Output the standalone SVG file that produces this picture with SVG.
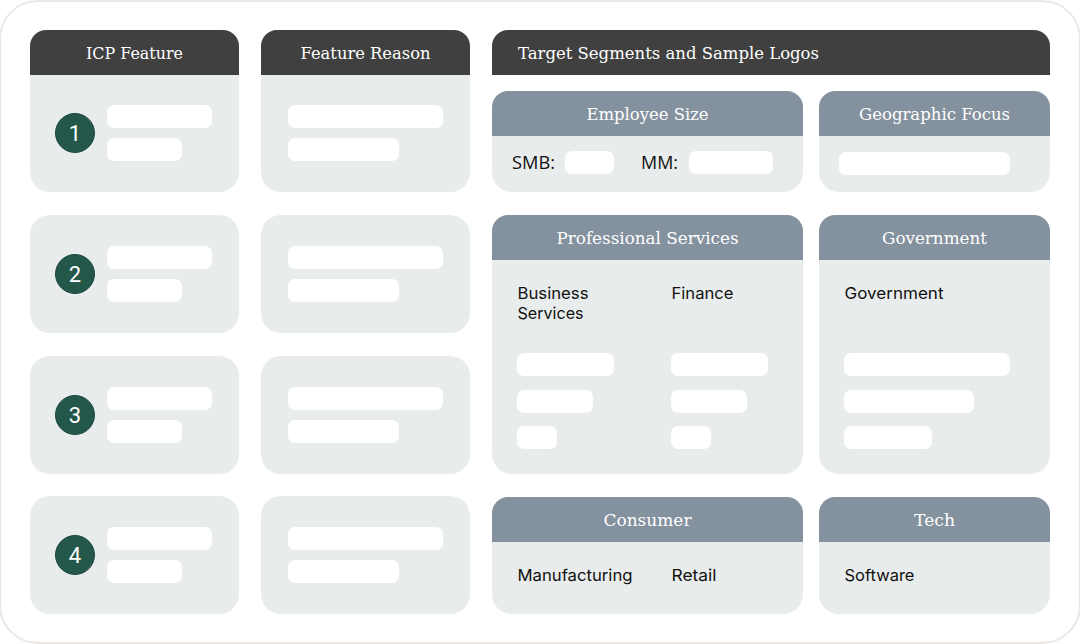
<svg xmlns="http://www.w3.org/2000/svg" width="1080" height="644" viewBox="0 0 1080 644">
<style>
.p{fill:#e9ecec}.d{fill:#404040}.g{fill:#84919e}.w{fill:#fff}
.h{font-family:"DejaVu Serif","Liberation Serif",serif;font-size:17.5px;fill:#fff;text-anchor:middle}
.s{fill:#fff;text-anchor:start}
.b{font-family:"Inter","Liberation Sans",sans-serif;font-size:16.5px;fill:#111}
.o{font-family:"Open Sans","Noto Sans",sans-serif;font-size:18px;fill:#111}
.c{fill:#235749;stroke:#1d4a3e;stroke-width:1}
.n{font-family:"Roboto","Liberation Sans",sans-serif;font-size:22px;fill:#fff;text-anchor:middle}
</style>
<defs>
<path id="h209" d="M30 75V46a16 16 0 0 1 16-16H223a16 16 0 0 1 16 16V75Z"/>
</defs>
<rect width="1080" height="644" fill="#fff"/>
<rect x="0" y="1" width="1080" height="642" rx="38" fill="#fff" stroke="#ece9e5" stroke-width="2"/>
<g id="connectors"></g>
<g id="icp-header"><rect class="p" x="30" y="30" width="209" height="162" rx="20"/><use href="#h209" class="d"/><text class="h" x="134.500" y="58.500" textLength="97" lengthAdjust="spacingAndGlyphs">ICP Feature</text>
<rect class="w" x="107" y="105" width="105" height="23" rx="7"/><rect class="w" x="107" y="138" width="75" height="23" rx="7"/><circle class="c" cx="75" cy="133" r="19.500"/><text class="n" x="75" y="141">1</text></g>
<g id="reason-header"><rect class="p" x="261" y="30" width="209" height="162" rx="20"/><use href="#h209" x="231" class="d"/><text class="h" x="365.500" y="58.500" textLength="130" lengthAdjust="spacingAndGlyphs">Feature Reason</text>
<rect class="w" x="288" y="105" width="155" height="23" rx="7"/><rect class="w" x="288" y="138" width="111" height="23" rx="7"/></g>
<g id="icp-2"><rect class="p" x="30" y="215" width="209" height="118" rx="20"/><rect class="w" x="107" y="246" width="105" height="23" rx="7"/><rect class="w" x="107" y="279" width="75" height="23" rx="7"/><circle class="c" cx="75" cy="274" r="19.500"/><text class="n" x="75" y="282">2</text></g>
<g id="reason-2"><rect class="p" x="261" y="215" width="209" height="118" rx="20"/><rect class="w" x="288" y="246" width="155" height="23" rx="7"/><rect class="w" x="288" y="279" width="111" height="23" rx="7"/></g>
<g id="icp-3"><rect class="p" x="30" y="356" width="209" height="118" rx="20"/><rect class="w" x="107" y="387" width="105" height="23" rx="7"/><rect class="w" x="107" y="420" width="75" height="23" rx="7"/><circle class="c" cx="75" cy="415" r="19.500"/><text class="n" x="75" y="423">3</text></g>
<g id="reason-3"><rect class="p" x="261" y="356" width="209" height="118" rx="20"/><rect class="w" x="288" y="387" width="155" height="23" rx="7"/><rect class="w" x="288" y="420" width="111" height="23" rx="7"/></g>
<g id="icp-4"><rect class="p" x="30" y="496" width="209" height="118" rx="20"/><rect class="w" x="107" y="527" width="105" height="23" rx="7"/><rect class="w" x="107" y="560" width="75" height="23" rx="7"/><circle class="c" cx="75" cy="555" r="19.500"/><text class="n" x="75" y="563">4</text></g>
<g id="reason-4"><rect class="p" x="261" y="496" width="209" height="118" rx="20"/><rect class="w" x="288" y="527" width="155" height="23" rx="7"/><rect class="w" x="288" y="560" width="111" height="23" rx="7"/></g>
<g id="target-header"><path class="d" d="M492 75V46a16 16 0 0 1 16-16H1034a16 16 0 0 1 16 16V75Z"/><text class="h s" x="518" y="58.500" textLength="301" lengthAdjust="spacingAndGlyphs">Target Segments and Sample Logos</text></g>
<g id="employee-size"><rect class="p" x="492" y="91" width="311" height="101" rx="20"/><path class="g" d="M492 136V107a16 16 0 0 1 16-16H787a16 16 0 0 1 16 16V136Z"/><text class="h" x="647.500" y="119.500" textLength="122" lengthAdjust="spacingAndGlyphs">Employee Size</text>
<text class="o" x="512" y="169" textLength="43" lengthAdjust="spacingAndGlyphs">SMB:</text><rect class="w" x="565" y="151" width="49" height="23" rx="7"/><text class="o" x="641" y="169" textLength="37" lengthAdjust="spacingAndGlyphs">MM:</text><rect class="w" x="689" y="151" width="84" height="23" rx="7"/></g>
<g id="geographic-focus"><rect class="p" x="819" y="91" width="231" height="101" rx="20"/><path class="g" d="M819 136V107a16 16 0 0 1 16-16H1034a16 16 0 0 1 16 16V136Z"/><text class="h" x="934.500" y="119.500" textLength="151" lengthAdjust="spacingAndGlyphs">Geographic Focus</text><rect class="w" x="839" y="152" width="171" height="23" rx="7"/></g>
<g id="professional-services"><rect class="p" x="492" y="215" width="311" height="259" rx="20"/><path class="g" d="M492 260V231a16 16 0 0 1 16-16H787a16 16 0 0 1 16 16V260Z"/><text class="h" x="647.500" y="243.500" textLength="182" lengthAdjust="spacingAndGlyphs">Professional Services</text>
<text class="b" x="517.500" y="299" textLength="71" lengthAdjust="spacingAndGlyphs">Business</text><text class="b" x="517.500" y="319" textLength="66" lengthAdjust="spacingAndGlyphs">Services</text><text class="b" x="671.500" y="299" textLength="62" lengthAdjust="spacingAndGlyphs">Finance</text>
<rect class="w" x="517" y="353" width="97" height="23" rx="7"/><rect class="w" x="517" y="390" width="76" height="23" rx="7"/><rect class="w" x="517" y="426" width="40" height="23" rx="7"/>
<rect class="w" x="671" y="353" width="97" height="23" rx="7"/><rect class="w" x="671" y="390" width="76" height="23" rx="7"/><rect class="w" x="671" y="426" width="40" height="23" rx="7"/></g>
<g id="government"><rect class="p" x="819" y="215" width="231" height="259" rx="20"/><path class="g" d="M819 260V231a16 16 0 0 1 16-16H1034a16 16 0 0 1 16 16V260Z"/><text class="h" x="934.500" y="243.500" textLength="105" lengthAdjust="spacingAndGlyphs">Government</text>
<text class="b" x="844.500" y="299" textLength="99" lengthAdjust="spacingAndGlyphs">Government</text>
<rect class="w" x="844" y="353" width="166" height="23" rx="7"/><rect class="w" x="844" y="390" width="130" height="23" rx="7"/><rect class="w" x="844" y="426" width="88" height="23" rx="7"/></g>
<g id="consumer"><rect class="p" x="492" y="497" width="311" height="117" rx="20"/><path class="g" d="M492 542V513a16 16 0 0 1 16-16H787a16 16 0 0 1 16 16V542Z"/><text class="h" x="647.500" y="525.500" textLength="88" lengthAdjust="spacingAndGlyphs">Consumer</text>
<text class="b" x="517.500" y="581" textLength="115" lengthAdjust="spacingAndGlyphs">Manufacturing</text><text class="b" x="671.500" y="581" textLength="45" lengthAdjust="spacingAndGlyphs">Retail</text></g>
<g id="tech"><rect class="p" x="819" y="497" width="231" height="117" rx="20"/><path class="g" d="M819 542V513a16 16 0 0 1 16-16H1034a16 16 0 0 1 16 16V542Z"/><text class="h" x="934.500" y="525.500" textLength="41" lengthAdjust="spacingAndGlyphs">Tech</text>
<text class="b" x="844.500" y="581" textLength="70" lengthAdjust="spacingAndGlyphs">Software</text></g>
</svg>
